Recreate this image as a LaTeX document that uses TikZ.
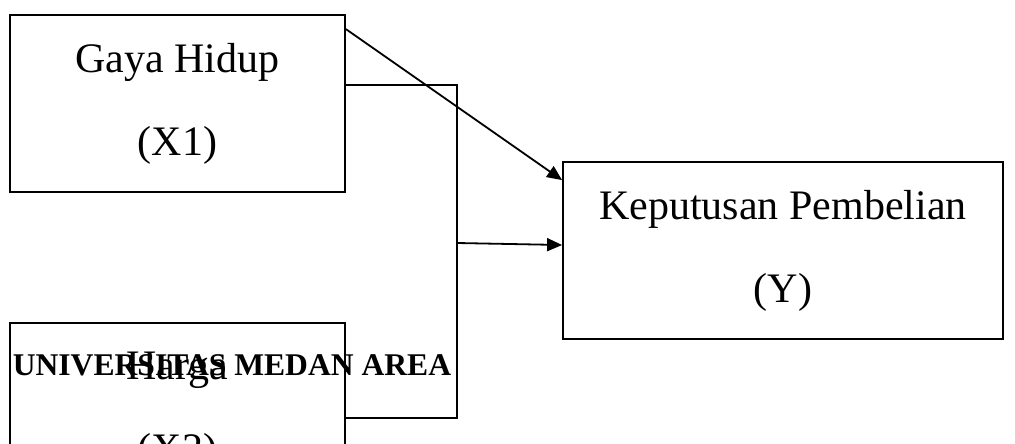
\documentclass[tikz,border=0pt]{standalone}
\usepackage{fontspec}
\setmainfont{Liberation Serif}
\usetikzlibrary{arrows.meta,positioning}

\begin{document}
\begin{tikzpicture}[
    x=1pt, y=-1pt,
    box/.style={rectangle, draw, line width=1.8pt,
                minimum width=335pt, minimum height=177pt, inner sep=0pt,
                align=center, font=\fontsize{42}{83}\selectfont},
    wide/.style={box, minimum width=440pt},
    arr/.style={-{Triangle[length=15pt, width=13pt]}, line width=1.8pt},
    ln/.style={line width=1.8pt},
    wm/.style={font=\fontsize{31.6}{36}\selectfont\bfseries},
]
\useasboundingbox (0,0) rectangle (1015,444);
\clip (0,0) rectangle (1015,444);

%% Variabel bebas dan terikat
\node[box]  (gaya) at (177.5,103.5) {Gaya Hidup\\(X1)};
\node[wide] (kep)  at (783,250.5)   {Keputusan Pembelian\\(Y)};
\node[box]  (hrg)  at (177.5,411.5) {Harga\\(X2)};

%% Titik belok garis gabungan
\coordinate (b1) at (457,85);
\coordinate (b2) at (457,418);
\coordinate (jn) at (457,243);

\draw[ln] (gaya.east |- b1) -- (b1) -- (b2) -- (hrg.east |- b2);
\draw[arr] (jn) -- ([yshift=5.5pt]kep.west);
\draw[arr] ([yshift=-15pt]gaya.north east) -- ([yshift=-19pt]kep.north west);

%% Tanda air
\node[wm, anchor=base] (uma) at (232,375) {UNIVERSITAS MEDAN AREA};

\end{tikzpicture}
\end{document}
